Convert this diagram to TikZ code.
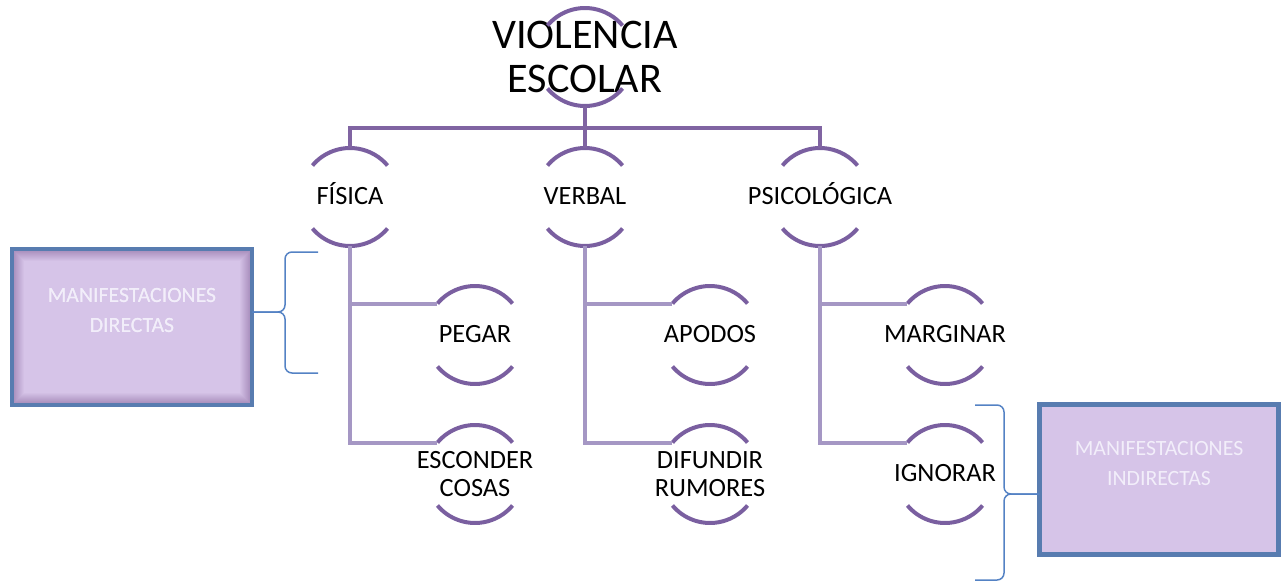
\documentclass[tikz,border=0pt]{standalone}
\usepackage{fontspec}
\setmainfont{Carlito}
\definecolor{arcpurple}{RGB}{122,95,160}
\definecolor{barpurple}{RGB}{128,100,162}
\definecolor{linkpurple}{RGB}{165,151,196}
\definecolor{boxfill}{RGB}{214,196,232}
\definecolor{boxline}{RGB}{88,124,176}
\definecolor{bracecol}{RGB}{84,130,196}
\definecolor{glowcol}{RGB}{150,120,170}
\definecolor{boxtext}{RGB}{242,238,250}

\tikzset{
  ringline/.style={arcpurple, line width=0.08cm},
  toplink/.style={barpurple, line width=0.08cm},
  sublink/.style={linkpurple, line width=0.08cm},
  titletxt/.style={align=center, font=\fontsize{24}{25}\selectfont, inner sep=0pt},
  leaftxt/.style={align=center, font=\fontsize{15}{16}\selectfont, inner sep=0pt},
  oneline/.style={leaftxt, text height=2.2ex, text depth=0.3ex},
  mbox/.style={draw=boxline, fill=boxfill, align=center, text=boxtext,
    font=\fontsize{12.4}{17}\selectfont, text depth=0.65cm, outer sep=0pt},
  bracket/.style={bracecol, line width=0.03cm, rounded corners=0.14cm}
}

\def\rr{0.98cm}
% two arcs round a node, and the points the links meet
\newcommand\ringarcs[1]{%
  \draw[ringline] ([shift={(140:\rr)}]#1.center) arc[start angle=140, end angle=40, radius=\rr];
  \draw[ringline] ([shift={(220:\rr)}]#1.center) arc[start angle=220, end angle=320, radius=\rr];
  \coordinate (#1-n) at ([yshift=\rr]#1.center);
  \coordinate (#1-s) at ([yshift=-\rr]#1.center);
  \coordinate (#1-in) at ([shift={(140:\rr)}]#1.center);
}

\begin{document}
\begin{tikzpicture}[x=0.02cm, y=-0.02cm]
    \useasboundingbox (0,0) rectangle (1283,585);

    \node[titletxt] (violencia) at (585,57) {VIOLENCIA\\ESCOLAR};

    \node[oneline] (fisica) at (350,197) {FÍSICA};
    \node[oneline] (verbal) at (585,197) {VERBAL};
    \node[oneline] (psico) at (820,197) {PSICOLÓGICA};

    \node[oneline] (pegar) at (475,335) {PEGAR};
    \node[leaftxt] (esconder) at (475,474) {ESCONDER\\COSAS};
    \node[oneline] (apodos) at (710,335) {APODOS};
    \node[leaftxt] (difundir) at (710,474) {DIFUNDIR\\RUMORES};
    \node[oneline] (marginar) at (945,335) {MARGINAR};
    \node[oneline] (ignorar) at (945,474) {IGNORAR};

    \foreach \n in {violencia,fisica,verbal,psico,pegar,esconder,apodos,difundir,marginar,ignorar}
        {\ringarcs{\n}}

    % links
    \coordinate (bar) at (585,128);
    \draw[toplink] (violencia-s) -- (bar);
    \draw[toplink] (fisica-n) |- (bar) -| (psico-n);
    \draw[toplink] (bar) -- (verbal-n);

    \draw[sublink] (fisica-s) |- (pegar-in);
    \draw[sublink] (fisica-s) |- (esconder-in);
    \draw[sublink] (verbal-s) |- (apodos-in);
    \draw[sublink] (verbal-s) |- (difundir-in);
    \draw[sublink] (psico-s) |- (marginar-in);
    \draw[sublink] (psico-s) |- (ignorar-in);

    % boxes
    \node[mbox, line width=0.08cm, minimum width=4.8cm, minimum height=3.12cm]
        (directas) at (132,327) {MANIFESTACIONES\\DIRECTAS};
    \foreach \i in {0,...,9}{
        \pgfmathsetmacro\c{65-6.5*\i}
        \draw[glowcol!\c!boxfill, line width=0.02cm] (14.5+\i,251.5+\i) rectangle (249.5-\i,402.5-\i);
    }
    \node[mbox, line width=0.08cm, minimum width=4.8cm, minimum height=3.12cm, fill=none, draw=boxline]
        at (132,327) {MANIFESTACIONES\\DIRECTAS};

    \node[mbox, line width=0.1cm, minimum width=4.78cm, minimum height=3cm]
        (indirectas) at (1159,479.5) {MANIFESTACIONES\\INDIRECTAS};

    % brackets
    \coordinate (lb-top) at (318,252);
    \coordinate (lb-bot) at (318,373);
    \draw[bracket] (lb-top) -- (285,252) -- (285,312) -- ([yshift=0.3cm]directas.east);
    \draw[bracket] (lb-bot) -- (285,373) -- (285,312) -- ([yshift=0.3cm]directas.east);

    \coordinate (rb-top) at (975,405);
    \coordinate (rb-bot) at (975,580);
    \draw[bracket] (rb-top) -- (1004,405) -- (1004,494) -- ([yshift=-0.29cm]indirectas.west);
    \draw[bracket] (rb-bot) -- (1004,580) -- (1004,494) -- ([yshift=-0.29cm]indirectas.west);

\end{tikzpicture}
\end{document}
